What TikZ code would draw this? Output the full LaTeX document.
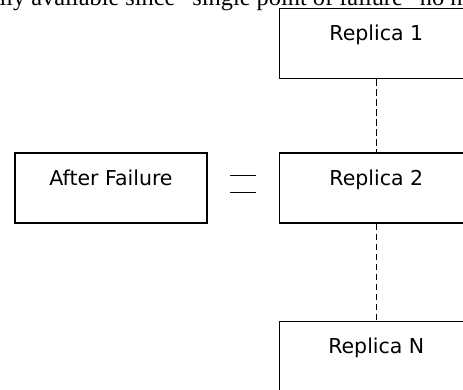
\documentclass[tikz,border=0pt]{standalone}
\usepackage{fontspec}
\setsansfont{DejaVu Sans}
\setmainfont{Liberation Serif}
\usetikzlibrary{positioning}

\begin{document}
\begin{tikzpicture}[
      elem/.style={rectangle, draw, line width=1.1pt, inner xsep=0,
                   inner ysep=0, text height=0.96cm, text depth=1.14cm,
                   font=\sffamily\fontsize{17.5}{20}\selectfont},
      replica/.style={minimum width=5.82cm},
      link/.style={line width=1.2pt, dash pattern=on 0.2cm off 0.1cm}
    ]
      \clip (0, 0) rectangle (13.89, -11.7);

      % caption line cut off above the picture
      \node[anchor=base west, inner sep=0,
            font=\rmfamily\fontsize{20.8}{24}\selectfont]
        (caption) at (-0.02, -0.18)
        {lly available since “single point of failure” no n};

      \node[elem, minimum width=5.76cm]
        (after) at (3.33, -5.64) {After Failure};

      \node[elem, replica, right=2.13 of after]
        (replica2) {Replica 2};
      \node[elem, replica, above=2.19 of replica2]
        (replica1) {Replica 1};
      \node[elem, replica, below=2.91 of replica2]
        (replicaN) {Replica N};

      \node[minimum width=0.78cm, minimum height=0.48cm, inner sep=0]
        (equal) at (7.29, -5.52) {};
      \draw[line width=1pt] (equal.north west) -- (equal.north east);
      \draw[line width=1pt] (equal.south west) -- (equal.south east);

      \draw[link] (replica1) -- (replica2);
      \draw[link] (replica2) -- (replicaN);
    \end{tikzpicture}
\end{document}
